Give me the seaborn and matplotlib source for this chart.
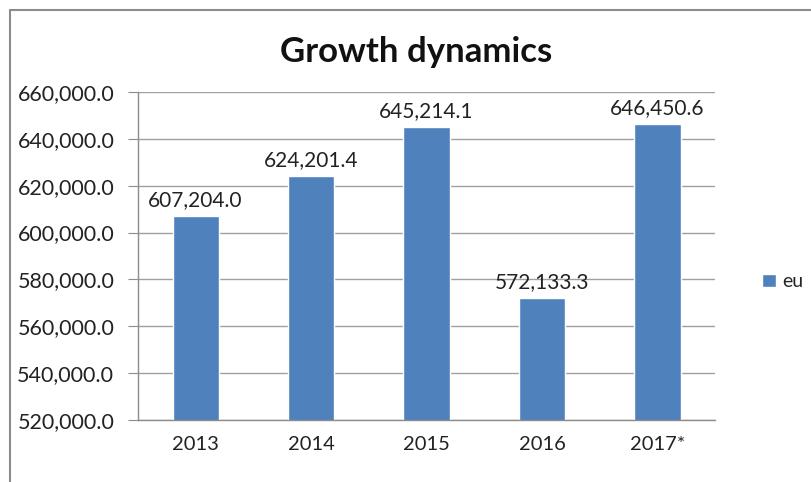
import pandas as pd
import seaborn as sns
import matplotlib.pyplot as plt
from matplotlib.lines import Line2D
from matplotlib.patches import Patch
from matplotlib.ticker import FuncFormatter, MultipleLocator

years = ['2013', '2014', '2015', '2016', '2017*']
values = [607204.0, 624201.4, 645214.1, 572133.3, 646450.6]
series_name = 'eu'

BAR_COLOR = '#4f81bd'


def main():
    df = pd.DataFrame({'year': years, 'value': values})

    sns.set_style('white')
    plt.rcParams['font.family'] = ['Lato', 'DejaVu Sans']

    fig = plt.figure(figsize=(8.11, 4.82), dpi=100)
    ax = fig.add_axes([0.170, 0.129, 0.712, 0.680])

    sns.barplot(data=df, x='year', y='value', color=BAR_COLOR,
                width=0.4, saturation=1, ax=ax)

    ax.set_ylim(520000, 660000)
    ax.set_xlim(-0.5, len(years) - 0.5)
    ax.yaxis.set_major_locator(MultipleLocator(20000))
    ax.yaxis.set_major_formatter(FuncFormatter(lambda v, p: f'{v:,.1f}'))
    ax.grid(axis='y', color='#a0a0a0', linewidth=1)
    ax.set_axisbelow(True)

    for s in ['top', 'right']:
        ax.spines[s].set_visible(False)
    for s in ['left', 'bottom']:
        ax.spines[s].set_color('#8c8c8c')
        ax.spines[s].set_linewidth(1)

    ax.set_xticks(range(len(years)))
    ax.set_xticklabels(years)
    ax.set_xticks([i - 0.5 for i in range(len(years) + 1)], minor=True)
    ax.tick_params(axis='x', which='major', length=0, pad=12,
                   labelsize=14.5, labelcolor='#222222')
    ax.tick_params(axis='x', which='minor', length=6, color='#8c8c8c')
    ax.tick_params(axis='y', length=7, color='#8c8c8c', pad=10,
                   labelsize=15.5, labelcolor='#222222', left=True)
    ax.set_xlabel('')
    ax.set_ylabel('')

    for i, v in enumerate(values):
        ax.text(i, v + 2500, f'{v:,.1f}', ha='center', va='bottom',
                fontsize=15, color='#222222')

    fig.text(0.513, 0.893, 'Growth dynamics', ha='center', va='center',
             fontsize=25, fontweight='bold', color='#111111')

    handles = [Patch(facecolor=BAR_COLOR, label=series_name)]
    fig.legend(handles=handles, loc='center left',
               bbox_to_anchor=(0.94, 0.415), frameon=False, fontsize=14,
               handlelength=0.7, handleheight=0.7, handletextpad=0.3,
               borderpad=0, borderaxespad=0)

    # outer chart frame
    fig.add_artist(Line2D([0.012, 1.0], [0.979, 0.979], color='#8c8c8c',
                          linewidth=1.5, transform=fig.transFigure))
    fig.add_artist(Line2D([0.012, 0.012], [0.0, 0.979], color='#8c8c8c',
                          linewidth=1.5, transform=fig.transFigure))

    fig.savefig('out.png', dpi=100)


if __name__ == '__main__':
    main()
